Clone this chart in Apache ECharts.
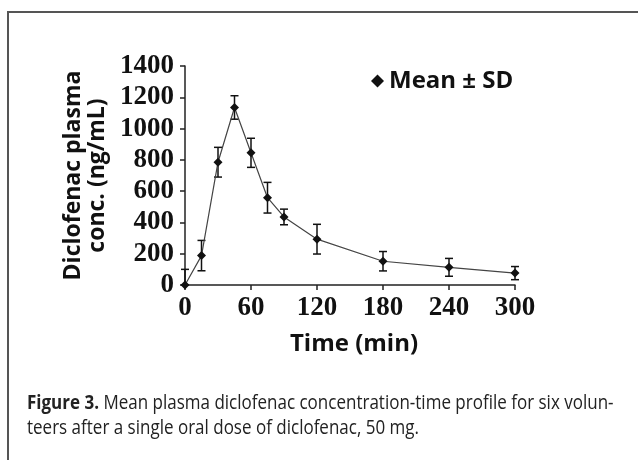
<!DOCTYPE html>
<html>
<head>
<meta charset="utf-8">
<script src="https://cdn.jsdelivr.net/npm/echarts@6/dist/echarts.min.js"></script>
<style>
  html, body { margin: 0; padding: 0; background: #fff; }
  #chart { width: 638px; height: 460px; }
</style>
</head>
<body>
<div id="chart"></div>
<script>
  // sampling times (min) and concentration (ng/mL)
  const times = [0, 15, 30, 45, 60, 75, 90, 120, 180, 240, 300];
  const means = [0, 188, 785, 1135, 845, 558, 435, 293, 152, 113, 76];
  const sds = [100, 97, 95, 75, 93, 98, 50, 95, 62, 57, 42];
  const xTicks = [0, 60, 120, 180, 240, 300];
  const yTicks = [0, 200, 400, 600, 800, 1000, 1200, 1400];

  const linePoints = times.map((t, i) => [t, means[i]]);
  const errPoints = times.map((t, i) => [t, Math.max(0, means[i] - sds[i]), means[i] + sds[i]]);

  const tickFont = { fontFamily: 'Liberation Serif', fontWeight: 'bold', fontSize: 27, color: '#111' };
  const sansBold = 'Open Sans';

  const chart = echarts.init(document.getElementById('chart'));

  chart.setOption({
    backgroundColor: '#fff',
    animation: false,
    grid: { left: 185, right: 123, top: 66, bottom: 175 },
    legend: {
      data: ['Mean ± SD'],
      left: 366,
      top: 64,
      icon: 'diamond',
      itemWidth: 13,
      itemHeight: 13,
      itemGap: 4,
      textStyle: { fontFamily: sansBold, fontWeight: 'bold', fontSize: 24, color: '#111' },
    },
    xAxis: {
      type: 'value',
      min: 0,
      max: 300,
      interval: 60,
      name: 'Time (min)',
      nameLocation: 'middle',
      nameGap: 47,
      nameTextStyle: { fontFamily: sansBold, fontWeight: 'bold', fontSize: 24, color: '#111', padding: [0, 0, 0, 8] },
      axisLine: { show: true, lineStyle: { color: '#222', width: 1.5 } },
      axisTick: { show: true, length: 5, lineStyle: { color: '#222', width: 1.5 } },
      axisLabel: Object.assign({ margin: 10, formatter: v => xTicks.includes(v) ? String(v) : '' }, tickFont),
      splitLine: { show: false },
    },
    yAxis: {
      type: 'value',
      min: 0,
      max: 1400,
      interval: 200,
      name: 'Diclofenac plasma\nconc. (ng/mL)',
      nameLocation: 'middle',
      nameGap: 75,
      nameRotate: 90,
      nameTextStyle: { fontFamily: sansBold, fontWeight: 'bold', fontSize: 23, lineHeight: 24, color: '#111' },
      axisLine: { show: true, lineStyle: { color: '#222', width: 1.5 } },
      axisTick: { show: true, length: 5, lineStyle: { color: '#222', width: 1.5 } },
      axisLabel: Object.assign({ margin: 11, formatter: v => yTicks.includes(v) ? String(v) : '' }, tickFont),
      splitLine: { show: false },
    },
    series: [
      {
        name: 'error',
        type: 'custom',
        z: 2,
        data: errPoints,
        renderItem(params, api) {
          const x = api.value(0);
          const lo = api.coord([x, api.value(1)]);
          const hi = api.coord([x, api.value(2)]);
          const w = 4;
          const style = { stroke: '#111', lineWidth: 1.5 };
          return {
            type: 'group',
            children: [
              { type: 'line', shape: { x1: lo[0], y1: lo[1], x2: hi[0], y2: hi[1] }, style },
              { type: 'line', shape: { x1: hi[0] - w, y1: hi[1], x2: hi[0] + w, y2: hi[1] }, style },
              { type: 'line', shape: { x1: lo[0] - w, y1: lo[1], x2: lo[0] + w, y2: lo[1] }, style },
            ],
          };
        },
      },
      {
        name: 'Mean ± SD',
        type: 'line',
        z: 3,
        data: linePoints,
        symbol: 'diamond',
        symbolSize: 9,
        itemStyle: { color: '#111' },
        lineStyle: { color: '#444', width: 1.2 },
      },
    ],
    graphic: [
      {
        type: 'polyline',
        shape: { points: [[8, 470], [8, 12], [650, 12]] },
        style: { stroke: '#555', lineWidth: 2, fill: null },
      },
      {
        type: 'text',
        left: 27,
        top: 391,
        scaleX: 0.85,
        style: {
          text: '{b|Figure 3.} Mean plasma diclofenac concentration-time profile for six volun-\nteers after a single oral dose of diclofenac, 50 mg.',
          fontFamily: 'Open Sans',
          fontSize: 20,
          lineHeight: 25,
          fill: '#222',
          rich: {
            b: { fontFamily: 'Open Sans', fontWeight: 'bold', fontSize: 20, lineHeight: 25, fill: '#222' },
          },
        },
      },
    ],
  });
</script>
</body>
</html>
